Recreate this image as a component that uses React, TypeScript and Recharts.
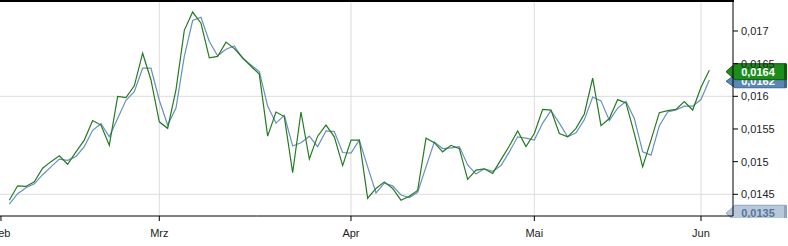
import { LineChart, Line, XAxis, YAxis, CartesianGrid, ReferenceLine } from 'recharts'

document.body.style.margin = '0'

const FONT = 'Arial, "Liberation Sans", sans-serif'

// trading-day index of the first day of each month
const monthTicks = [-1, 18, 41, 63, 83]
const monthLabels = ['Feb', 'Mrz', 'Apr', 'Mai', 'Jun']
const priceTicks = [0.0145, 0.015, 0.0155, 0.016, 0.0165, 0.017]

const price = [
  0.01441, 0.01463, 0.01462, 0.01469, 0.0149, 0.015, 0.01509, 0.01496, 0.01515, 0.01533,
  0.01563, 0.01556, 0.01525, 0.016, 0.01598, 0.01616, 0.01666, 0.01625, 0.01561, 0.01551,
  0.0161, 0.01701, 0.01729, 0.01712, 0.01659, 0.01661, 0.01683, 0.01673, 0.01659, 0.01646,
  0.01634, 0.01539, 0.01576, 0.01569, 0.01483, 0.01576, 0.01504, 0.01539, 0.01556, 0.01538,
  0.01494, 0.01533, 0.01533, 0.01444, 0.01459, 0.01469, 0.01459, 0.01441, 0.01447, 0.01456,
  0.01536, 0.01529, 0.01515, 0.01525, 0.0152, 0.01473, 0.01487, 0.01489, 0.01482, 0.01503,
  0.01524, 0.01547, 0.01523, 0.01543, 0.0158, 0.01579, 0.01543, 0.01538, 0.01551, 0.01573,
  0.01628, 0.01555, 0.01566, 0.01595, 0.0159, 0.01543, 0.01492, 0.01533, 0.01575, 0.01578,
  0.0158, 0.01592, 0.01579, 0.01614, 0.0164,
]

const average = [
  0.01435, 0.01451, 0.0146, 0.01466, 0.0148, 0.01492, 0.01504, 0.01502, 0.01508, 0.01523,
  0.01548, 0.01558, 0.01538, 0.01566, 0.01594, 0.01607, 0.01643, 0.01643, 0.01594, 0.01556,
  0.01582, 0.01661, 0.01716, 0.01721, 0.01684, 0.01662, 0.01672, 0.01677, 0.01658, 0.01648,
  0.01638, 0.01585, 0.01559, 0.01571, 0.01524, 0.01529, 0.01539, 0.01523, 0.01547, 0.01546,
  0.01514, 0.01513, 0.01533, 0.01492, 0.01452, 0.01467, 0.01463, 0.01449, 0.01445, 0.01453,
  0.01492, 0.0153, 0.0152, 0.01521, 0.01523, 0.01495, 0.01481, 0.01489, 0.01485, 0.01494,
  0.01515, 0.01538, 0.01536, 0.01533, 0.01559, 0.01578, 0.01559, 0.01538, 0.01544, 0.01564,
  0.01599, 0.01593, 0.01563, 0.01582, 0.01592, 0.01566, 0.01515, 0.0151, 0.01555, 0.01576,
  0.01579, 0.01585, 0.01585, 0.01595, 0.01625,
]

const lastPrice = 0.0164
const lastAverage = 0.0162
const lowMark = 0.01421
const lowMarkText = '0,0135'

const Y_MIN = 0.014168
const Y_MAX = 0.017459

const data = price.map((p, i) => ({ day: i, price: p, average: average[i] }))

const fmt = (v: number) => String(v).replace('.', ',')

function Tag({ viewBox, text, fill, stroke, color, h, dy = 0, clipBottom }: any) {
  if (!viewBox) return null
  const cy = viewBox.y + dy
  const tip = viewBox.x + viewBox.width - 7
  const right = 786
  const half = h / 2
  const pts = `${tip},${cy} ${tip + 9},${cy - half} ${right},${cy - half} ${right},${cy + half} ${tip + 9},${cy + half}`
  const id = `clip-${text.replace(',', '')}`
  return (
    <g clipPath={clipBottom ? `url(#${id})` : undefined}>
      {clipBottom && (
        <defs>
          <clipPath id={id}>
            <rect x={0} y={0} width={788} height={clipBottom} />
          </clipPath>
        </defs>
      )}
      <polygon points={pts} fill={fill} stroke={stroke} strokeWidth={1} />
      <rect x={right - 2} y={cy - half} width={3} height={h} fill={stroke} />
      <text x={758} y={cy + 4} textAnchor="middle" fill={color} fontSize={11} fontWeight="bold" fontFamily={FONT}>
        {text}
      </text>
    </g>
  )
}

export default function App() {
  return (
    <div style={{ position: 'relative', width: 788, height: 246 }}>
      <LineChart width={788} height={246} data={data} margin={{ top: 1, right: 0, bottom: 0, left: 0 }}>
        <CartesianGrid
          stroke="#dcdcdc"
          horizontalValues={[0.0145, 0.016]}
          verticalValues={monthTicks.slice(1)}
        />
        <XAxis
          dataKey="day"
          type="number"
          domain={[-1.116, 86.84]}
          allowDataOverflow
          ticks={monthTicks}
          tickFormatter={(v) => monthLabels[monthTicks.indexOf(v)] ?? ''}
          height={30}
          axisLine={{ stroke: '#000' }}
          tickLine={{ stroke: '#000' }}
          tickSize={5}
          tickMargin={8}
          tick={{ fill: '#222', fontSize: 11, fontFamily: FONT }}
          interval={0}
        />
        <YAxis
          orientation="right"
          width={55}
          domain={[Y_MIN, Y_MAX]}
          allowDataOverflow
          ticks={priceTicks}
          tickFormatter={fmt}
          axisLine={{ stroke: '#000' }}
          tickLine={{ stroke: '#000' }}
          tickSize={5}
          tickMargin={3}
          tick={{ fill: '#222', fontSize: 11, fontFamily: FONT, textAnchor: 'start' }}
          interval={0}
        />
        <Line type="linear" dataKey="average" stroke="#6a90ba" strokeWidth={1.2} dot={false} activeDot={false} isAnimationActive={false} />
        <Line type="linear" dataKey="price" stroke="#237a23" strokeWidth={1.2} dot={false} activeDot={false} isAnimationActive={false} />
        <ReferenceLine
          y={lowMark}
          stroke="none"
          label={(p: any) => (
            <Tag viewBox={p.viewBox} text={lowMarkText} fill="#b7c8dd" stroke="#8ea4bf" color="#5a7596" h={16} clipBottom={218} />
          )}
        />
        <ReferenceLine
          y={lastAverage}
          stroke="none"
          label={(p: any) => (
            <Tag viewBox={p.viewBox} text={fmt(lastAverage)} fill="#5b87b6" stroke="#3f6690" color="#fff" h={13} dy={-2} />
          )}
        />
        <ReferenceLine
          y={lastPrice}
          stroke="none"
          label={(p: any) => (
            <Tag viewBox={p.viewBox} text={fmt(lastPrice)} fill="#1c8c1c" stroke="#0d5c0d" color="#fff" h={16} dy={1.5} />
          )}
        />
      </LineChart>
      <div style={{ position: 'absolute', left: 0, top: 0, width: 734, height: 2, background: '#000' }} />
    </div>
  )
}
